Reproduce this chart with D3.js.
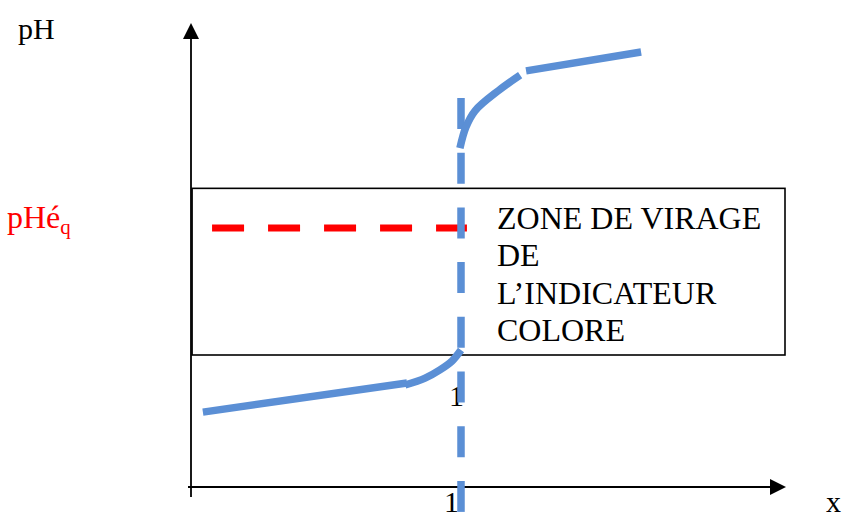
<!DOCTYPE html>
<html>
<head>
<meta charset="utf-8">
<script src="https://cdn.jsdelivr.net/npm/d3@7"></script>
<style>
  html, body { margin: 0; padding: 0; background: #fff; }
  svg { display: block; }
  text { font-family: "Liberation Serif", "Times New Roman", serif; }
</style>
</head>
<body>
<svg id="chart" width="844" height="518"></svg>
<script>
// ---- data (schematic titration curve) ----
const xDomain = [0, 2.2];          // volume ratio x
const yDomain = [0, 14];           // pH
const lowerLine = [[0.044, 2.27], [0.800, 3.15]];
const lowerBend = [[0.793, 3.09], [0.867, 3.30], [0.922, 3.55], [0.967, 3.82], [1.0, 4.15]];
const upperBend = [[0.996, 10.27], [1.018, 10.90], [1.052, 11.40], [1.140, 12.02], [1.219, 12.48]];
const upperLine = [[1.241, 12.61], [1.667, 13.18]];
const equivalenceX = 1;
const pHeq = 7.85;
const pHeqRange = [0.078, 1.022];
const zone = { x0: 0.004, x1: 2.2, y0: 4, y1: 9.05 };
const zoneLabel = ["ZONE DE VIRAGE", "DE", "L\u2019INDICATEUR", "COLORE"];
const xTickLabels = ["1"];

// ---- scales ----
const svg = d3.select("#chart");
const x = d3.scaleLinear().domain(xDomain).range([191, 785]);
const y = d3.scaleLinear().domain(yDomain).range([487, 25]);

const blue = "#5B8FD5";

// zone box
svg.append("rect")
  .attr("x", x(zone.x0)).attr("y", y(zone.y1))
  .attr("width", x(zone.x1) - x(zone.x0)).attr("height", y(zone.y0) - y(zone.y1))
  .attr("fill", "none").attr("stroke", "#000").attr("stroke-width", 1.6);

// zone text
svg.append("g").selectAll("text").data(zoneLabel).join("text")
  .attr("x", 497).attr("y", (d, i) => 229 + i * 37.3)
  .attr("font-size", 32).attr("fill", "#000").text(d => d);

// axes
const axisG = svg.append("g");
axisG.append("line").attr("x1", x(0)).attr("x2", x(0)).attr("y1", 497).attr("y2", 36)
  .attr("stroke", "#000").attr("stroke-width", 1.8);
axisG.append("path").attr("d", `M${x(0)},23 L${x(0)-8},39 L${x(0)+8},39 Z`).attr("fill", "#000");
axisG.append("line").attr("x1", 188).attr("x2", 772).attr("y1", y(0)).attr("y2", y(0))
  .attr("stroke", "#000").attr("stroke-width", 1.8);
axisG.append("path").attr("d", `M786,${y(0)} L770,${y(0)-8} L770,${y(0)+8} Z`).attr("fill", "#000");

// axis labels
svg.append("text").attr("x", 18).attr("y", 39).attr("font-size", 30).text("pH");
svg.append("text").attr("x", 826).attr("y", 512).attr("font-size", 30).text("x");
const eq = svg.append("text").attr("x", 7).attr("y", 228).attr("font-size", 32).attr("fill", "#FF0000");
eq.append("tspan").text("pHé");
eq.append("tspan").attr("font-size", 21).attr("dy", 6).text("q");

// tick labels
svg.append("g").selectAll("text").data(xTickLabels).join("text")
  .attr("x", d => x(+d) - 17).attr("y", 512).attr("font-size", 30).text(d => d);
svg.append("text").attr("x", x(1) - 12).attr("y", 406).attr("font-size", 30).text("1");

// red dashed pHeq line
svg.append("line")
  .attr("x1", x(pHeqRange[0])).attr("x2", x(pHeqRange[1]))
  .attr("y1", y(pHeq)).attr("y2", y(pHeq))
  .attr("stroke", "#FF0000").attr("stroke-width", 7).attr("stroke-dasharray", "32,24");

// vertical blue dashed line at equivalence
svg.append("line")
  .attr("x1", x(equivalenceX)).attr("x2", x(equivalenceX))
  .attr("y1", 98).attr("y2", 520)
  .attr("stroke", blue).attr("stroke-width", 7.5).attr("stroke-dasharray", "31,23.7");

// curve
const line = d3.line().x(d => x(d[0])).y(d => y(d[1]));
const curve = d3.line().x(d => x(d[0])).y(d => y(d[1])).curve(d3.curveCatmullRom.alpha(0.5));
[[lowerLine, line], [lowerBend, curve], [upperBend, curve], [upperLine, line]].forEach(([pts, gen]) => {
  svg.append("path").attr("d", gen(pts)).attr("fill", "none")
    .attr("stroke", blue).attr("stroke-width", 7.5).attr("stroke-linecap", "butt");
});
</script>
</body>
</html>
